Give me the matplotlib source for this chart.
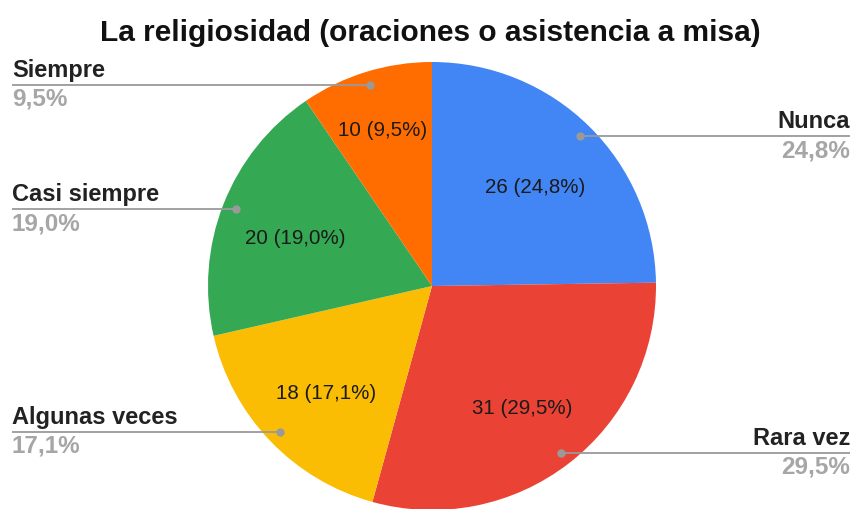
import numpy as np
import matplotlib
matplotlib.use("Agg")
import matplotlib.pyplot as plt

# Data
categories = ["Nunca", "Rara vez", "Algunas veces", "Casi siempre", "Siempre"]
counts = [26, 31, 18, 20, 10]
colors = ["#4285F4", "#EA4335", "#FBBC04", "#34A853", "#FF6D01"]
title = "La religiosidad (oraciones o asistencia a misa)"

plt.rcParams['font.family'] = ['Liberation Sans', 'DejaVu Sans']

W, H = 854, 509
fig = plt.figure(figsize=(W / 100, H / 100), dpi=100)
ax = fig.add_axes([0, 0, 1, 1])

cx, cy, r = 432, H - 286, 224
total = sum(counts)
pcts = [c / total * 100 for c in counts]


def fmt(p):
    return f"{p:.1f}".replace(".", ",") + "%"


wedges, _ = ax.pie(counts, colors=colors, startangle=90, counterclock=False,
                   center=(cx, cy), radius=r, frame=True,
                   wedgeprops=dict(linewidth=0))
ax.set_xlim(0, W)
ax.set_ylim(0, H)
ax.set_aspect('equal')
ax.axis('off')

# inside value labels
for w, c, p in zip(wedges, counts, pcts):
    ang = np.deg2rad((w.theta1 + w.theta2) / 2)
    d = 0.655 if p > 12 else 0.755
    x = cx + d * r * np.cos(ang)
    y = cy + d * r * np.sin(ang) - 6
    ax.text(x, y, f"{c} ({fmt(p)})", ha='center', va='center',
            fontsize=14.8, color='#1a1a1a')

# outside labels with leader lines
for w, name, p in zip(wedges, categories, pcts):
    ang = np.deg2rad((w.theta1 + w.theta2) / 2)
    x0 = cx + 0.94 * r * np.cos(ang)
    y0 = cy + 0.94 * r * np.sin(ang)
    if np.cos(ang) >= 0:
        xe, ha = 850, 'right'
    else:
        xe, ha = 12, 'left'
    ax.plot([x0, xe], [y0, y0], color='#9a9a9a', lw=1.3, solid_capstyle='butt')
    ax.plot([x0], [y0], 'o', color='#9a9a9a', markersize=5)
    ax.text(xe, y0 + 8, name, ha=ha, va='baseline', fontsize=17,
            fontweight='bold', color='#222222')
    ax.text(xe, y0 - 21, fmt(p), ha=ha, va='baseline', fontsize=17.5,
            fontweight='bold', color='#a6a6a6')

fig.text(430 / W, 1 - 33 / H, title, ha='center', va='center',
         fontsize=21.5, fontweight='bold', color='#111111')

fig.savefig("out.png", dpi=100)
